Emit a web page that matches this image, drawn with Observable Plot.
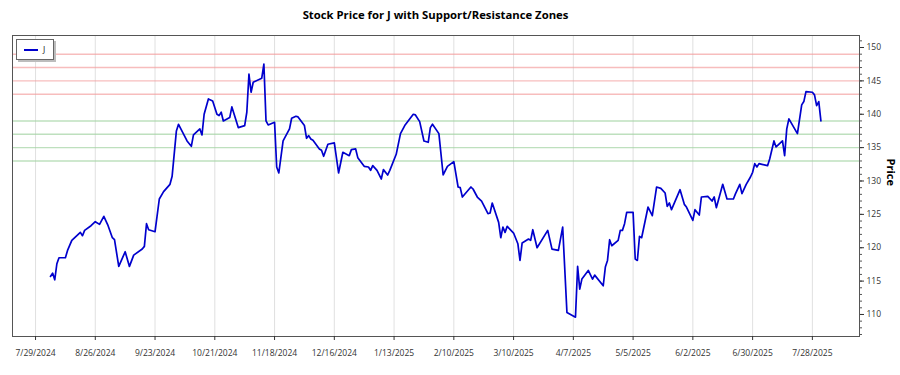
<!DOCTYPE html>
<html>
<head>
<meta charset="utf-8">
<script src="https://cdn.jsdelivr.net/npm/d3@7"></script>
<script src="https://cdn.jsdelivr.net/npm/@observablehq/plot@0.6"></script>
<style>
  html, body { margin: 0; padding: 0; background: #fff; }
  body { width: 900px; height: 375px; overflow: hidden; font-family: "Open Sans", sans-serif; }
  #wrap { position: relative; width: 900px; height: 375px; }
  #title { position: absolute; left: 12px; width: 847px; top: 0; height: 30px; line-height: 30px;
           text-align: center; font-weight: bold; font-size: 11.3px; color: #000; }
  #chart { position: absolute; left: 0; top: 30px; }
  #legend { position: absolute; left: 16px; top: 39px; width: 36px; height: 19px; background: #fff;
            border: 1px solid #666; box-shadow: 2px 2px 0 #bdbdbd; }
  #legend svg { position: absolute; left: 0; top: 0; }
</style>
</head>
<body>
<div id="wrap">
  <div id="title">Stock Price for J with Support/Resistance Zones</div>
  <div id="chart"></div>
  <div id="legend">
    <svg width="36" height="19">
      <line x1="7" x2="21" y1="10" y2="10" stroke="#0000cd" stroke-width="2"></line>
      <text x="26" y="13" font-family="Open Sans, sans-serif" font-size="8.5" fill="#222">J</text>
    </svg>
  </div>
</div>
<script>
// Daily closing prices for J (turning points of the series)
const dates = [
  "2024-08-05","2024-08-06","2024-08-07","2024-08-08","2024-08-09","2024-08-12","2024-08-13","2024-08-15",
  "2024-08-18","2024-08-19","2024-08-20","2024-08-21","2024-08-24","2024-08-26","2024-08-28","2024-08-30",
  "2024-09-01","2024-09-03","2024-09-04","2024-09-06","2024-09-09","2024-09-11","2024-09-13","2024-09-17",
  "2024-09-18","2024-09-19","2024-09-20","2024-09-23","2024-09-25","2024-09-27","2024-09-30","2024-10-01",
  "2024-10-03","2024-10-04","2024-10-08","2024-10-10","2024-10-11","2024-10-14","2024-10-15","2024-10-16",
  "2024-10-18","2024-10-20","2024-10-22","2024-10-23","2024-10-24","2024-10-25","2024-10-28","2024-10-29",
  "2024-11-01","2024-11-04","2024-11-05","2024-11-06","2024-11-07","2024-11-08","2024-11-12","2024-11-13",
  "2024-11-14","2024-11-15","2024-11-18","2024-11-19","2024-11-20","2024-11-22","2024-11-25","2024-11-26",
  "2024-11-28","2024-11-29","2024-12-02","2024-12-03","2024-12-04","2024-12-05","2024-12-06","2024-12-09",
  "2024-12-10","2024-12-11","2024-12-13","2024-12-16","2024-12-18","2024-12-20","2024-12-23","2024-12-24",
  "2024-12-26","2024-12-27","2024-12-30","2025-01-01","2025-01-02","2025-01-03","2025-01-05","2025-01-07",
  "2025-01-08","2025-01-10","2025-01-11","2025-01-14","2025-01-16","2025-01-18","2025-01-22","2025-01-23",
  "2025-01-25","2025-01-27","2025-01-29","2025-01-30","2025-01-31","2025-02-03","2025-02-05","2025-02-07",
  "2025-02-10","2025-02-12","2025-02-13","2025-02-14","2025-02-18","2025-02-19","2025-02-21","2025-02-23",
  "2025-02-26","2025-02-27","2025-02-28","2025-03-03","2025-03-04","2025-03-05","2025-03-06","2025-03-07",
  "2025-03-10","2025-03-12","2025-03-13","2025-03-14","2025-03-17","2025-03-18","2025-03-19","2025-03-21",
  "2025-03-26","2025-03-28","2025-03-31","2025-04-02","2025-04-04","2025-04-08","2025-04-09","2025-04-10",
  "2025-04-11","2025-04-14","2025-04-16","2025-04-17","2025-04-21","2025-04-22","2025-04-23","2025-04-24",
  "2025-04-25","2025-04-28","2025-04-29","2025-04-30","2025-05-01","2025-05-02","2025-05-05","2025-05-06",
  "2025-05-07","2025-05-08","2025-05-09","2025-05-12","2025-05-14","2025-05-16","2025-05-18","2025-05-20",
  "2025-05-21","2025-05-22","2025-05-23","2025-05-27","2025-05-29","2025-05-30","2025-06-02","2025-06-03",
  "2025-06-05","2025-06-06","2025-06-09","2025-06-11","2025-06-12","2025-06-13","2025-06-16","2025-06-18",
  "2025-06-21","2025-06-22","2025-06-24","2025-06-25","2025-06-27","2025-06-29","2025-06-30","2025-07-01",
  "2025-07-02","2025-07-03","2025-07-07","2025-07-08","2025-07-10","2025-07-11","2025-07-14","2025-07-15",
  "2025-07-16","2025-07-17","2025-07-21","2025-07-23","2025-07-24","2025-07-25","2025-07-28","2025-07-29",
  "2025-07-30","2025-07-31","2025-08-01"
];
const closes = [
  115.7,116.2,115.2,117.6,118.5,118.5,119.6,121.1,
  122.0,122.3,121.8,122.6,123.3,123.9,123.5,124.7,
  123.3,121.5,121.2,117.2,119.4,117.2,118.9,119.8,
  120.2,123.6,122.7,122.4,127.3,128.4,129.5,130.7,
  137.5,138.5,136.0,135.2,136.9,137.8,136.9,140.0,
  142.3,142.0,140.0,139.8,140.3,139.0,139.5,141.1,
  138.0,138.3,140.3,146.0,143.3,144.8,145.4,147.5,
  139.0,138.4,138.8,132.1,131.2,136.0,137.8,139.4,
  139.7,139.6,138.3,136.4,136.8,136.3,136.1,134.8,
  134.6,133.7,135.5,135.7,131.2,134.3,133.8,134.7,
  134.8,133.5,132.2,132.1,131.6,132.3,131.6,130.3,
  131.7,130.9,131.6,134.0,137.1,138.3,140.0,139.9,
  138.9,136.0,135.8,138.0,138.5,137.1,130.9,132.2,
  132.9,129.1,129.0,127.6,129.1,128.8,127.6,127.0,
  125.1,125.2,126.7,123.8,121.5,123.1,122.3,123.2,
  122.2,120.6,118.1,120.7,121.3,121.1,122.7,120.0,
  122.6,119.8,119.6,123.1,110.3,109.6,117.2,113.8,
  115.3,116.6,115.3,115.9,114.3,117.1,118.1,121.2,
  120.3,121.1,122.6,122.6,123.6,125.3,125.3,118.3,
  118.1,121.7,121.5,126.1,124.8,129.1,128.9,128.2,
  126.2,126.7,125.7,128.7,126.5,126.1,124.1,125.7,
  124.9,127.6,127.7,127.0,127.6,126.0,129.5,127.3,
  127.3,128.1,129.5,128.1,129.5,130.6,131.3,132.6,
  132.1,132.6,132.3,133.3,136.0,135.1,136.0,133.8,
  137.8,139.3,137.1,141.4,141.9,143.4,143.3,142.9,
  141.3,141.9,139.0
];

// Zone levels
const resistance = [143, 145, 147, 149];
const support = [133, 135, 137, 139];

// Axis ticks
const xTickDates = [
  "2024-07-29","2024-08-26","2024-09-23","2024-10-21","2024-11-18","2024-12-16","2025-01-13",
  "2025-02-10","2025-03-10","2025-04-07","2025-05-05","2025-06-02","2025-06-30","2025-07-28"
];
const yTicks = [110, 115, 120, 125, 130, 135, 140, 145, 150];
const yMinorTicks = d3.range(107, 152);

const parse = d3.utcParse("%Y-%m-%d");
const rows = dates.map((d, i) => ({date: parse(d), close: closes[i]}));
const xTicks = xTickDates.map(parse);
const fmt = d3.utcFormat("%-m/%-d/%Y");

const chart = Plot.plot({
  width: 900,
  height: 345,
  marginTop: 5,
  marginRight: 41,
  marginBottom: 39,
  marginLeft: 12,
  style: {fontFamily: "Open Sans, sans-serif", fontSize: "8.5px", color: "#333", background: "#fff"},
  x: {type: "utc", domain: [new Date(Date.UTC(2024, 6, 18, 5)), new Date(Date.UTC(2025, 7, 19, 2))]},
  y: {domain: [106.7, 151.8]},
  marks: [
    Plot.gridX(xTicks, {stroke: "#d8d8d8", strokeOpacity: 1, strokeWidth: 0.8}),
    Plot.ruleY(support, {stroke: "#a3d3a3", strokeOpacity: 0.7, strokeWidth: 1.4}),
    Plot.ruleY(resistance, {stroke: "#f29a9a", strokeOpacity: 0.65, strokeWidth: 1.4}),
    Plot.lineY(rows, {x: "date", y: "close", stroke: "#0000cd", strokeWidth: 1.7}),
    Plot.frame({stroke: "#555", strokeWidth: 1}),
    Plot.axisX(xTicks, {tickSize: 4, tickPadding: 9, tickFormat: fmt, label: null, stroke: "#333"}),
    Plot.axisY(yMinorTicks, {anchor: "right", tickSize: 2, tickFormat: () => "", label: null, stroke: "#555"}),
    Plot.axisY(yTicks, {anchor: "right", tickSize: 4, tickPadding: 3, label: null, stroke: "#333"}),
    Plot.text(["Price"], {text: d => d, frameAnchor: "right", dx: 31, rotate: 90, fontWeight: "bold", fontSize: 11, fill: "#000"})
  ]
});
document.getElementById("chart").append(chart);
</script>
</body>
</html>
